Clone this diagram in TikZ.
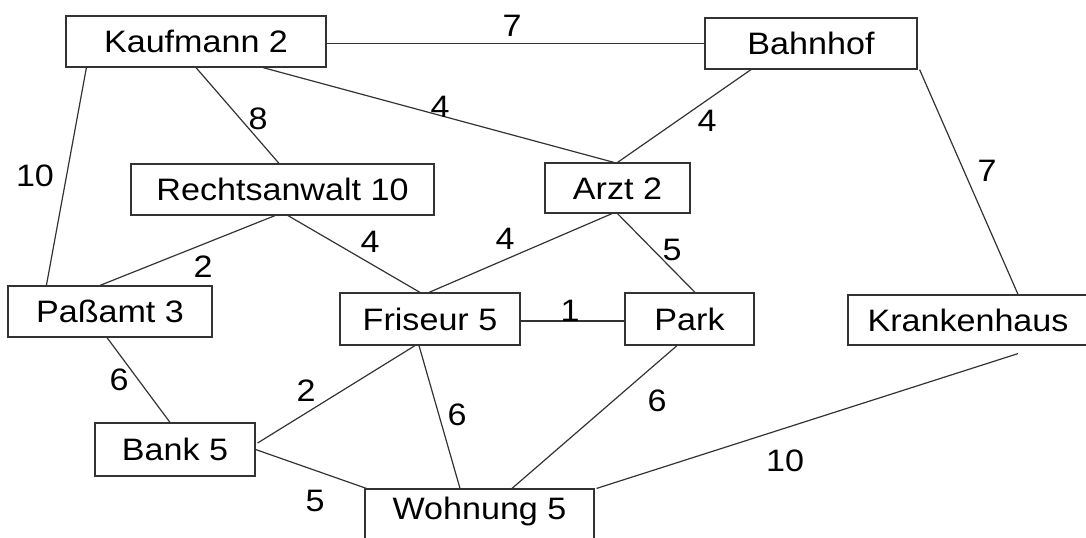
\documentclass[tikz,border=0pt]{standalone}
\usepackage{fontspec}
\setmainfont{Liberation Sans}[FakeStretch=1.1]
\usetikzlibrary{calc}

\begin{document}
\begin{tikzpicture}[x=0.5pt,y=-0.5pt,
  ort/.style={draw=black!80,line width=0.6pt,fill=white,inner sep=0pt,text=black,
    font=\fontsize{15.5}{18}\selectfont,text height=11.1pt,text depth=0pt},
  gew/.style={inner sep=0pt,text=black,font=\fontsize{15.5}{18}\selectfont},
  weg/.style={draw=black!80,line width=0.6pt}]
\useasboundingbox (0,0) rectangle (1086,537);
\node [ort,minimum width=130pt,minimum height=25.5pt] (kauf) at (196,41.5) {Kaufmann 2};
\node [ort,minimum width=106pt,minimum height=25.5pt] (bahn) at (811,43.5) {Bahnhof};
\node [ort,minimum width=151.5pt,minimum height=25.5pt] (recht) at (282.5,189.5) {Rechtsanwalt 10};
\node [ort,minimum width=72.5pt,minimum height=25pt] (arzt) at (617.5,188) {Arzt 2};
\node [ort,minimum width=102pt,minimum height=25.5pt] (pass) at (110,311.5) {Paßamt 3};
\node [ort,minimum width=90pt,minimum height=26pt] (fris) at (430,319) {Friseur 5};
\node [ort,minimum width=64.5pt,minimum height=26pt] (park) at (689.5,319) {Park};
\node [ort,minimum width=120pt,minimum height=25pt] (krank) at (968,320) {Krankenhaus};
\node [ort,minimum width=80pt,minimum height=26.5pt] (bank) at (175,449.5) {Bank 5};
\node [ort,minimum width=114.5pt,minimum height=26pt,text depth=6.5pt] (wohn) at (479.5,515) {Wohnung 5};
\draw [weg] (kauf.east |- bahn.west) -- (bahn.west);
\draw [weg] ($(kauf.south west)+(21,0)$) -- ($(pass.north west)+(39,0)$);
\draw [weg] (kauf.south) -- ($(recht.north)+(-3.5,0)$);
\draw [weg] ($(kauf.south)+(67,0)$) -- ($(arzt.north)+(-3.5,0)$);
\draw [weg] ($(bahn.south)+(-60,0)$) -- (arzt.north);
\draw [weg] ($(bahn.south east)+(2,0)$) -- ($(krank.north)+(50,0)$);
\draw [weg] ($(recht.south)+(-7.5,0)$) -- ($(pass.north)+(-10,0)$);
\draw [weg] ($(recht.south)+(5.5,0)$) -- ($(fris.north)+(-10,0)$);
\draw [weg] ($(arzt.south)+(-5.5,0)$) -- ($(fris.north)+(-1,0)$);
\draw [weg] (arzt.south) -- ($(park.north)+(5.5,0)$);
\draw [weg] ($(fris.east)+(0,2)$) -- ($(park.west)+(0,2)$);
\draw [weg] ($(pass.south)+(-3,0)$) -- ($(bank.north)+(-5,0)$);
\draw [weg] ($(fris.south)+(-15,0)$) -- ($(bank.east)+(2,-6.5)$);
\draw [weg] ($(fris.south)+(-11,0)$) -- ($(wohn.north)+(-19.5,0)$);
\draw [weg] (bank.east) -- ($(wohn.north west)+(2,0)$);
\draw [weg] ($(park.south)+(-12.5,0)$) -- ($(wohn.north)+(32.5,0)$);
\draw [weg] ($(krank.south)+(50,8)$) -- ($(wohn.north east)+(2,0)$);
\node [gew] (g-kb) at (512,26) {7};
\node [gew] (g-kp) at (35,176) {10};
\node [gew] (g-kr) at (258,119) {8};
\node [gew] (g-ka) at (440,107) {4};
\node [gew] (g-ba) at (707,121) {4};
\node [gew] (g-bk) at (987,171) {7};
\node [gew] (g-rp) at (203,267) {2};
\node [gew] (g-rf) at (370,242) {4};
\node [gew] (g-af) at (505,239) {4};
\node [gew] (g-ap) at (672,250) {5};
\node [gew] (g-fp) at (570,311) {1};
\node [gew] (g-pb) at (119,380) {6};
\node [gew] (g-fb) at (306,391) {2};
\node [gew] (g-fw) at (457,415) {6};
\node [gew] (g-bw) at (315,501) {5};
\node [gew] (g-pw) at (657,401) {6};
\node [gew] (g-kw) at (785,461) {10};
\end{tikzpicture}
\end{document}
